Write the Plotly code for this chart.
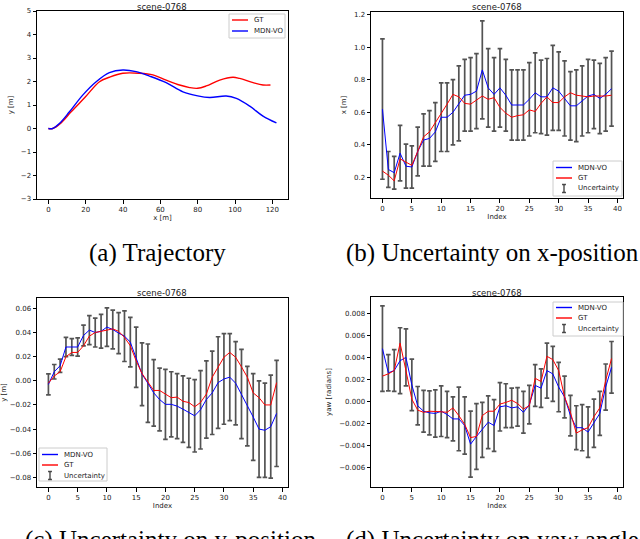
import plotly.graph_objects as go

# ---- data ----
# (a) trajectory, metres
gt_x = [0, 2.3, 6.8, 12.2, 19.9, 27.4, 32.7, 39.9, 48.8, 56, 63.1, 70.3, 75.7, 80, 84.6, 91.8, 98.9, 102.5, 109.7, 115, 119]
gt_y = [0, 0, 0.24, 0.71, 1.35, 1.99, 2.18, 2.35, 2.35, 2.28, 2.06, 1.85, 1.74, 1.71, 1.81, 2.06, 2.18, 2.13, 1.95, 1.85, 1.85]
vo_x = [0, 2.3, 5.9, 11.3, 18.4, 25.6, 32.7, 39.9, 47, 54.2, 63.1, 72.1, 80, 86.4, 95.3, 100.7, 107.9, 115, 122.2]
vo_y = [0, 0, 0.21, 0.71, 1.42, 1.99, 2.38, 2.49, 2.42, 2.23, 1.95, 1.56, 1.39, 1.32, 1.38, 1.28, 0.95, 0.53, 0.24]

index = list(range(40))

# (b) x-position
x_mdn = [0.62, 0.25, 0.23, 0.35, 0.27, 0.265, 0.36, 0.43, 0.44, 0.48, 0.57, 0.57, 0.60, 0.655, 0.705, 0.71, 0.73, 0.86, 0.75, 0.71,
         0.75, 0.705, 0.645, 0.645, 0.645, 0.68, 0.72, 0.695, 0.695, 0.75, 0.73, 0.685, 0.64, 0.64, 0.67, 0.70, 0.71, 0.685, 0.71, 0.745]
x_gt = [0.24, 0.215, 0.18, 0.315, 0.295, 0.275, 0.36, 0.45, 0.48, 0.535, 0.595, 0.65, 0.71, 0.695, 0.655, 0.65, 0.675, 0.70, 0.68, 0.69,
        0.63, 0.595, 0.57, 0.58, 0.585, 0.615, 0.605, 0.655, 0.695, 0.66, 0.66, 0.695, 0.72, 0.705, 0.70, 0.695, 0.70, 0.70, 0.70, 0.705]
x_sig = [0.43, 0.11, 0.10, 0.17, 0.135, 0.13, 0.15, 0.16, 0.17, 0.18, 0.21, 0.21, 0.20, 0.23, 0.22, 0.225, 0.23, 0.30, 0.24, 0.225,
         0.24, 0.22, 0.215, 0.215, 0.215, 0.225, 0.245, 0.225, 0.235, 0.26, 0.24, 0.23, 0.21, 0.22, 0.215, 0.225, 0.21, 0.215, 0.225, 0.23]

# (c) y-position
y_mdn = [-0.003, 0.0075, 0.0125, 0.028, 0.028, 0.028, 0.0375, 0.042, 0.040, 0.041, 0.0445, 0.0425, 0.0395, 0.037, 0.032, 0.0195, 0.0055, -0.002, -0.01, -0.0155,
         -0.0195, -0.0195, -0.021, -0.0235, -0.0265, -0.029, -0.024, -0.0155, -0.01, -0.0015, 0.0015, 0.003, -0.002, -0.011, -0.021, -0.030, -0.040, -0.041, -0.038, -0.027]
y_gt = [-0.002, 0.004, 0.0075, 0.020, 0.0235, 0.0235, 0.029, 0.037, 0.040, 0.041, 0.042, 0.043, 0.041, 0.036, 0.029, 0.0165, 0.006, -0.0015, -0.008, -0.008,
        -0.011, -0.014, -0.0135, -0.017, -0.018, -0.0215, -0.018, -0.011, 0.003, 0.0115, 0.0195, 0.0235, 0.0195, 0.0115, 0.003, -0.01, -0.014, -0.020, -0.020, -0.0015]
y_sig = [0.0087, 0.006, 0.0055, 0.008, 0.007, 0.0075, 0.0086, 0.012, 0.012, 0.014, 0.016, 0.016, 0.017, 0.021, 0.0205, 0.025, 0.026, 0.0325, 0.0275, 0.026,
         0.029, 0.027, 0.027, 0.0275, 0.0286, 0.030, 0.0325, 0.032, 0.0345, 0.038, 0.0375, 0.036, 0.0345, 0.037, 0.033, 0.036, 0.040, 0.039, 0.0427, 0.044]

# (d) yaw
yaw_mdn = [0.0048, 0.0026, 0.0028, 0.0037, 0.004, 0.0015, -0.0004, -0.0009, -0.00105, -0.0011, -0.0009, -0.0012, -0.0016, -0.0016, -0.0022, -0.0039, -0.0032, -0.0026, -0.0019, -0.0022,
           -0.0005, -0.0004, -0.0006, -0.0005, -0.001, -0.0003, 0.00145, 0.0012, 0.0028, 0.0025, 0.0013, 0.0004, -0.0013, -0.0024, -0.0024, -0.0028, -0.002, -0.0011, 0.0013, 0.0031]
yaw_gt = [0.0023, 0.0025, 0.0028, 0.0053, 0.0028, 0.0002, -0.0008, -0.001, -0.0009, -0.0009, -0.00095, -0.001, -0.0006, -0.0013, -0.0021, -0.0033, -0.0032, -0.0013, -0.0009, -0.0009,
          -0.00025, -0.0001, 0.0001, -0.0002, -0.0007, -0.0004, 0.0021, 0.0018, 0.0041, 0.0038, 0.0028, 0.0004, -0.001, -0.0029, -0.0026, -0.0024, -0.0014, -0.0006, 0.0019, 0.0039]
yaw_sig = [0.0039, 0.00165, 0.0019, 0.003, 0.0026, 0.00235, 0.00175, 0.0019, 0.002, 0.00215, 0.0023, 0.0021, 0.002, 0.0029, 0.0026, 0.003, 0.003, 0.0025, 0.0024, 0.00235,
           0.0022, 0.002, 0.0018, 0.00175, 0.0019, 0.00175, 0.0019, 0.00175, 0.0025, 0.0025, 0.00225, 0.0019, 0.00185, 0.002, 0.0021, 0.0023, 0.0022, 0.002, 0.0021, 0.00235]

title = "scene-0768"
captions = ["(a) Trajectory", "(b) Uncertainty on x-position",
            "(c) Uncertainty on y-position", "(d) Uncertainty on yaw angle"]

W, H = 640, 539

def px(x): return x / W
def py(y): return 1 - y / H

BLUE = "#0000ff"
RED = "#ff0000"
EBAR = "rgba(40,40,40,0.8)"
TF = dict(family="DejaVu Sans", size=7, color="#222")

fig = go.Figure()

# (a)
fig.add_trace(go.Scatter(x=gt_x, y=gt_y, mode="lines", name="GT", line=dict(color=RED, width=1.4, shape="spline"),
                         xaxis="x", yaxis="y"))
fig.add_trace(go.Scatter(x=vo_x, y=vo_y, mode="lines", name="MDN-VO", line=dict(color=BLUE, width=1.4, shape="spline"),
                         xaxis="x", yaxis="y"))

def add_panel(mdn, gt, sig, xa, ya):
    fig.add_trace(go.Scatter(x=index, y=mdn, mode="markers", marker=dict(size=0.1, color="rgba(0,0,0,0)"),
                             error_y=dict(type="data", array=sig, color=EBAR, thickness=1.7, width=2.3),
                             name="Uncertainty", xaxis=xa, yaxis=ya))
    fig.add_trace(go.Scatter(x=index, y=mdn, mode="lines", name="MDN-VO", line=dict(color=BLUE, width=1),
                             xaxis=xa, yaxis=ya))
    fig.add_trace(go.Scatter(x=index, y=gt, mode="lines", name="GT", line=dict(color=RED, width=1),
                             xaxis=xa, yaxis=ya))

add_panel(x_mdn, x_gt, x_sig, "x2", "y2")
add_panel(y_mdn, y_gt, y_sig, "x3", "y3")
add_panel(yaw_mdn, yaw_gt, yaw_sig, "x4", "y4")

ax = dict(showline=True, mirror=True, linecolor="black", linewidth=1, ticks="outside", ticklen=3.5,
          tickcolor="black", showgrid=False, zeroline=False, tickfont=TF, title_font=TF, automargin=False)

fig.update_layout(
    width=W, height=H, margin=dict(l=0, r=0, t=0, b=0, autoexpand=False),
    paper_bgcolor="white", plot_bgcolor="white", showlegend=False,
    xaxis=dict(ax, domain=[px(37), px(288)], anchor="y", range=[-6.1, 128.4], tickvals=[0, 20, 40, 60, 80, 100, 120],
               title=dict(text="x [m]", standoff=2)),
    yaxis=dict(ax, domain=[py(199), py(11)], anchor="x", range=[-3, 5], dtick=1,
               title=dict(text="y [m]", standoff=6)),
    xaxis2=dict(ax, domain=[px(371), px(623)], anchor="y2", range=[-1.95, 40.95], dtick=5,
                title=dict(text="Index", standoff=2)),
    yaxis2=dict(ax, domain=[py(198), py(12)], anchor="x2", range=[0.075, 1.215], dtick=0.2, tickformat=".1f",
                title=dict(text="x [m]", standoff=6)),
    xaxis3=dict(ax, domain=[px(37), px(288)], anchor="y3", range=[-1.95, 40.95], dtick=5,
                title=dict(text="Index", standoff=2)),
    yaxis3=dict(ax, domain=[py(487), py(298)], anchor="x3", range=[-0.088, 0.0686], dtick=0.02, tickformat=".2f",
                title=dict(text="y [m]", standoff=6)),
    xaxis4=dict(ax, domain=[px(371), px(623)], anchor="y4", range=[-1.95, 40.95], dtick=5,
                title=dict(text="Index", standoff=2)),
    yaxis4=dict(ax, domain=[py(487), py(297)], anchor="x4", range=[-0.0078, 0.0095], dtick=0.002, tickformat=".3f",
                title=dict(text="yaw [radians]", standoff=6)),
)

# matplotlib-like legends, drawn by hand in paper space
LF = dict(family="DejaVu Sans", size=7, color="#222")

def legend_box(x0, y0, x1, y1, rows):
    fig.add_shape(type="rect", xref="paper", yref="paper", x0=px(x0), x1=px(x1), y0=py(y0), y1=py(y1),
                  line=dict(color="#cccccc", width=1), fillcolor="rgba(255,255,255,0.85)", layer="above")
    for name, color, kind, ry in rows:
        lx0, lx1 = x0 + 3, x0 + 19
        if kind == "line":
            fig.add_shape(type="line", xref="paper", yref="paper", x0=px(lx0), x1=px(lx1), y0=py(ry), y1=py(ry),
                          line=dict(color=color, width=1.4), layer="above")
        else:
            cx = (lx0 + lx1) / 2
            fig.add_shape(type="line", xref="paper", yref="paper", x0=px(cx), x1=px(cx), y0=py(ry - 4), y1=py(ry + 4),
                          line=dict(color=color, width=1.5), layer="above")
            for cy in (ry - 4, ry + 4):
                fig.add_shape(type="line", xref="paper", yref="paper", x0=px(cx - 2), x1=px(cx + 2), y0=py(cy), y1=py(cy),
                              line=dict(color=color, width=1.5), layer="above")
        fig.add_annotation(text=name, x=px(x0 + 23), y=py(ry), xref="paper", yref="paper", showarrow=False,
                           xanchor="left", yanchor="middle", font=LF)

legend_box(229, 14, 285, 38, [("GT", RED, "line", 20), ("MDN-VO", BLUE, "line", 31)])
legend_box(553, 161, 622, 196, [("MDN-VO", BLUE, "line", 167.5), ("GT", RED, "line", 178), ("Uncertainty", EBAR, "bar", 188.5)])
legend_box(39, 448, 107, 481, [("MDN-VO", BLUE, "line", 454.5), ("GT", RED, "line", 465), ("Uncertainty", EBAR, "bar", 475.5)])
legend_box(553, 302, 623, 336, [("MDN-VO", BLUE, "line", 307.5), ("GT", RED, "line", 318), ("Uncertainty", EBAR, "bar", 328.5)])

# subplot titles
for cx, cy in [(162, 0), (497, 0), (162, 286), (497, 286)]:
    fig.add_annotation(text=title, x=px(cx), y=py(cy), xref="paper", yref="paper", showarrow=False,
                       font=dict(family="DejaVu Sans", size=8.5, color="#222"), xanchor="center", yanchor="top")

# captions
for txt, cx, cy in zip(captions, [157, 492, 170, 492], [253, 253, 540, 540]):
    fig.add_annotation(text=txt, x=px(cx), y=py(cy), xref="paper", yref="paper", showarrow=False,
                       font=dict(family="Liberation Serif", size=25, color="black"), xanchor="center", yanchor="middle")

# drop the default page margin so the figure sits at the window's top-left corner
fig.write_html("out.html", config={"displayModeBar": False},
               post_script="document.body.style.margin='0';")
